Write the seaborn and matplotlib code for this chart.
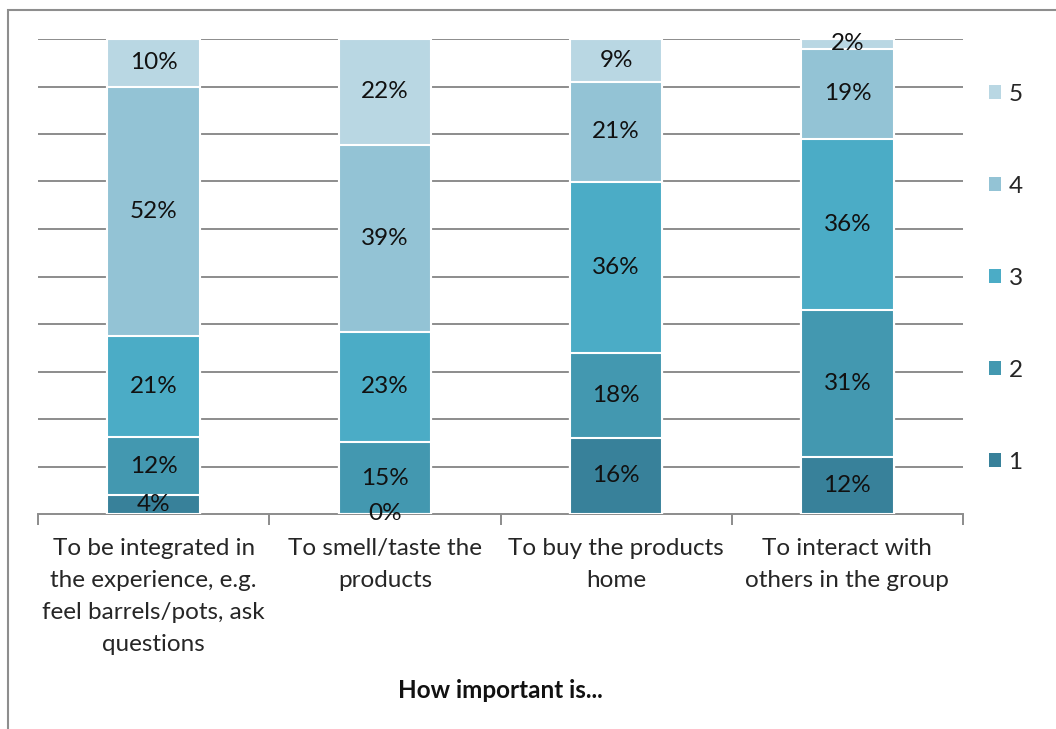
import matplotlib
matplotlib.use("Agg")
import matplotlib.pyplot as plt
import seaborn as sns
import pandas as pd
import numpy as np
from matplotlib.patches import Patch, Rectangle

categories = [
    "To be integrated in\nthe experience, e.g.\nfeel barrels/pots, ask\nquestions",
    "To smell/taste the\nproducts",
    "To buy the products\nhome",
    "To interact with\nothers in the group",
]
series_names = ["1", "2", "3", "4", "5"]
s1 = [4, 0, 16, 12]
s2 = [12, 15, 18, 31]
s3 = [21, 23, 36, 36]
s4 = [52, 39, 21, 19]
s5 = [10, 22, 9, 2]
colors = ["#38819A", "#4398B0", "#4BACC6", "#93C3D5", "#B9D7E3"]
x_title = "How important is..."

sns.set_theme(style="white")
plt.rcParams['font.family'] = ['Lato', 'DejaVu Sans']
FS = 17.5
GRAY = "#8C8C8C"

vals = np.array([s1, s2, s3, s4, s5], dtype=float)
totals = vals.sum(axis=0)
frac = vals / totals
cum = np.cumsum(frac, axis=0)

fig = plt.figure(figsize=(10.56, 7.29), dpi=100)
ax = fig.add_axes([38/1056, 1-514/729, (963-38)/1056, (514-39)/729])

for i in range(4, -1, -1):
    df = pd.DataFrame({"cat": categories, "cum": cum[i]})
    sns.barplot(data=df, x="cat", y="cum", order=categories, color=colors[i],
                width=0.4, edgecolor="white", linewidth=1.5, ax=ax,
                saturation=1, errorbar=None, zorder=3)

for i in range(5):
    for j in range(4):
        c = cum[i][j] - frac[i][j] / 2
        ax.text(j, c, f"{vals[i][j]:.0f}%", ha="center", va="center",
                fontsize=FS, color="#111111", zorder=6)

ax.set_ylim(0, 1)
ax.set_xlim(-0.5, 3.5)
ax.set_yticks(np.arange(0.1, 1.01, 0.1))
ax.yaxis.grid(True, color=GRAY, lw=1.4)
ax.xaxis.grid(False)
ax.tick_params(axis="y", length=0, labelleft=False)
ax.set_xticks([-0.5, 0.5, 1.5, 2.5, 3.5])
ax.set_xticklabels([""] * 5)
ax.set_xticks(range(4), minor=True)
ax.set_xticklabels(categories, minor=True, fontsize=FS, linespacing=1.65)
ax.tick_params(axis="x", which="major", length=8, width=1.4, color=GRAY,
               direction="out", bottom=True)
ax.tick_params(axis="x", which="minor", length=0, pad=17, bottom=True)
for s in ["left", "right", "top"]:
    ax.spines[s].set_visible(False)
ax.spines["bottom"].set_color(GRAY)
ax.spines["bottom"].set_linewidth(1.4)
ax.set_xlabel("")
ax.set_ylabel("")

fig.text(500.5/1056, 1-690/729, x_title, ha="center", va="center",
         fontsize=FS, fontweight="bold", color="#111111")

handles = [Patch(facecolor=colors[i], edgecolor="none", label=series_names[i])
           for i in range(4, -1, -1)]
fig.legend(handles=handles, loc="upper left",
           bbox_to_anchor=(989/1056, 1-84/729), frameon=False, fontsize=FS,
           handlelength=0.5, handleheight=0.5, handletextpad=0.3,
           labelspacing=2.92, borderpad=0, borderaxespad=0)

fig.add_artist(Rectangle((8/1056, -0.05), 1.1, 1-10/729+0.05,
                         transform=fig.transFigure, fill=False,
                         edgecolor="#8E8E8E", lw=1.5, clip_on=False))

fig.savefig("out.png", dpi=100)
